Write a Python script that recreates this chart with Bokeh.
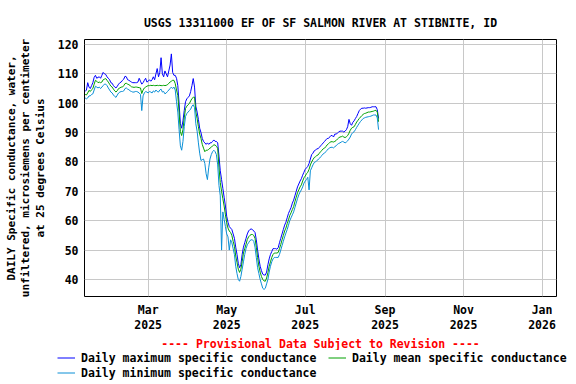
import pandas as pd
from bokeh.plotting import figure
from bokeh.layouts import column
from bokeh.models import (Legend, LegendItem, Title, FixedTicker,
                          DatetimeTickFormatter, Range1d)
from bokeh.embed import file_html
from bokeh.resources import INLINE

# ---------------- data ----------------
start_date = "2025-01-11"

daily_max = [
    104.0, 104.5, 107.0, 105.5, 105.0, 106.0, 107.0, 108.8, 109.5, 108.5,
    108.8, 109.0, 108.5, 109.5, 110.5, 110.0, 109.8, 109.0, 108.5, 108.0,
    107.0, 106.8, 106.0, 105.5, 105.2, 105.8, 106.5, 107.0, 107.2, 107.8,
    108.2, 109.2, 109.0, 108.0, 107.8, 107.5, 107.2, 107.0, 107.0, 107.0,
    107.0, 107.2, 108.5, 107.5, 106.5, 107.0, 107.8, 108.5, 107.2, 107.5,
    108.0, 107.5, 108.0, 109.0, 108.0, 110.0, 111.8, 109.0, 110.5, 115.5,
    110.0, 109.0, 111.0, 110.0, 109.0, 111.0, 113.0, 116.8, 110.5, 109.5,
    109.5, 108.5, 106.0, 100.0, 93.0, 91.5, 94.0, 97.5, 100.5, 101.5,
    102.0, 102.5, 104.0, 106.0, 108.4, 105.5, 99.0, 97.0, 94.5, 91.5,
    90.0, 88.0, 87.0, 86.5, 86.0, 86.5, 86.0, 86.5, 86.5, 87.0,
    87.5, 87.0, 87.0, 86.5, 82.0, 77.0, 74.0, 71.0, 68.0, 65.0,
    61.5, 59.5, 58.0, 57.5, 57.0, 55.5, 54.0, 51.0, 48.5, 45.5,
    44.0, 45.0, 48.5, 51.0, 52.5, 54.0, 55.5, 56.5, 57.0, 57.2,
    57.0, 56.5, 56.0, 53.5, 50.0, 47.0, 44.5, 43.0, 41.8, 41.5,
    41.5, 42.5, 45.0, 47.0, 48.5, 49.5, 50.5, 50.5, 50.5, 50.3,
    50.8, 52.5, 54.0, 55.5, 57.0, 58.5, 59.5, 61.0, 62.5, 63.5,
    64.5, 66.0, 67.0, 68.5, 70.0, 71.5, 72.5, 73.5, 74.3, 75.5,
    76.5, 77.5, 78.0, 78.5, 79.5, 81.0, 82.5, 83.0, 83.8, 84.0,
    84.5, 84.5, 85.0, 85.5, 86.0, 86.5, 87.0, 87.5, 88.0, 88.0,
    88.5, 89.0, 89.0, 88.5, 89.5, 89.5, 89.8, 90.2, 90.5, 90.5,
    90.5, 90.2, 90.5, 91.0, 92.0, 94.5, 93.0, 92.5, 93.5, 94.0,
    94.8, 95.5, 96.5, 97.5, 98.0, 98.3, 98.3, 98.4, 98.3, 98.4,
    98.5, 98.5, 98.6, 98.8, 98.8, 98.8, 98.8, 97.8, 94.8,
]

daily_mean = [
    103.0, 102.8, 103.5, 104.4, 104.0, 104.6, 105.0, 106.5, 107.8, 107.5,
    107.0, 107.2, 107.0, 107.2, 108.0, 108.2, 108.4, 107.8, 107.2, 106.5,
    105.8, 105.5, 104.8, 104.2, 103.8, 104.3, 105.0, 105.2, 105.5, 105.5,
    106.0, 106.7, 106.8, 106.5, 106.3, 106.0, 105.6, 105.5, 105.4, 105.5,
    105.5, 105.4, 105.3, 105.2, 103.3, 104.5, 105.2, 105.5, 105.8, 106.0,
    106.0, 106.1, 106.0, 106.1, 106.0, 106.0, 106.1, 106.0, 106.1, 106.0,
    106.0, 106.1, 106.0, 106.1, 106.3, 106.8, 107.2, 107.5, 107.8, 107.8,
    106.7, 104.5, 102.7, 97.0, 90.3, 89.0, 91.0, 95.0, 98.2, 99.0,
    99.5, 99.9, 100.8, 101.6, 102.0, 102.1, 97.0, 94.8, 92.0, 89.5,
    88.0, 86.0, 84.7, 83.5, 84.0, 84.0, 84.3, 84.7, 85.0, 85.5,
    85.8, 85.8, 85.3, 84.7, 78.0, 73.0, 70.0, 67.5, 65.0, 62.0,
    59.3, 57.5, 56.5, 56.0, 55.0, 53.0, 51.3, 48.0, 45.8, 43.5,
    42.4, 43.5, 46.0, 49.0, 50.5, 52.0, 53.6, 54.5, 55.0, 55.3,
    55.3, 55.0, 54.0, 51.0, 47.5, 44.5, 42.5, 41.0, 40.0, 39.5,
    39.4, 40.5, 42.3, 44.5, 46.0, 47.5, 48.5, 49.0, 49.0, 49.0,
    49.2, 50.5, 51.9, 53.5, 55.0, 56.5, 57.5, 59.0, 60.3, 61.8,
    62.7, 63.8, 64.8, 66.5, 68.0, 69.5, 70.5, 71.5, 72.2, 73.5,
    74.6, 75.2, 76.0, 76.5, 77.5, 79.0, 80.0, 80.8, 81.5, 81.8,
    82.2, 82.4, 83.0, 83.5, 84.0, 84.5, 84.7, 85.2, 85.8, 86.2,
    86.6, 86.9, 86.9, 86.8, 87.0, 87.3, 87.8, 88.2, 88.5, 88.6,
    88.8, 88.5, 88.3, 88.6, 89.0, 89.8, 90.8, 91.5, 91.8, 92.0,
    92.8, 93.6, 94.2, 94.8, 95.3, 95.8, 96.2, 96.5, 96.6, 96.8,
    97.0, 97.0, 97.1, 97.2, 97.3, 97.5, 97.6, 97.0, 93.7,
]

daily_min = [
    101.8, 101.5, 101.8, 102.5, 102.5, 103.0, 103.2, 104.5, 105.8, 105.5,
    105.2, 105.5, 105.0, 105.5, 106.0, 106.5, 106.5, 106.0, 105.2, 104.5,
    103.8, 103.5, 102.8, 102.3, 102.0, 102.8, 103.5, 103.8, 104.0, 104.0,
    104.2, 105.0, 105.2, 104.8, 104.6, 104.2, 104.0, 103.8, 103.8, 104.0,
    104.0, 103.8, 103.5, 103.0, 97.5, 102.5, 103.5, 104.0, 103.8, 103.5,
    104.0, 103.8, 103.5, 104.2, 103.8, 104.5, 104.0, 103.8, 104.5, 104.8,
    103.8, 104.0, 103.2, 103.5, 104.0, 104.5, 105.0, 105.5, 105.0, 105.5,
    104.5, 100.5, 97.0, 91.0, 85.5, 84.0, 87.0, 92.0, 95.5, 96.5,
    97.0, 97.5, 98.0, 99.0, 99.5, 98.5, 93.0, 90.5, 86.5, 83.0,
    80.5, 80.8, 81.0, 79.5, 76.0, 74.0, 78.0, 81.0, 82.5, 83.5,
    84.0, 83.5, 82.5, 79.0, 72.0, 68.5, 50.0, 63.0, 60.5, 58.0,
    55.5, 54.5, 50.0, 53.5, 52.5, 50.5, 48.5, 44.5, 42.0, 40.0,
    39.4, 41.0, 43.5, 46.0, 48.5, 50.5, 51.8, 52.5, 53.2, 53.5,
    53.5, 53.0, 51.0, 47.5, 44.0, 42.0, 40.0, 38.5, 37.0, 36.6,
    37.0, 38.5, 40.0, 42.5, 44.5, 46.0, 47.0, 47.5, 47.5, 47.5,
    47.5, 48.5, 50.0, 51.5, 53.0, 54.5, 55.8, 57.0, 58.5, 60.0,
    61.0, 62.0, 63.0, 64.5, 66.0, 67.5, 68.8, 69.8, 70.5, 71.5,
    72.8, 73.5, 74.0, 74.8, 70.5, 77.0, 78.0, 79.0, 79.8, 80.0,
    80.5, 80.8, 81.2, 81.8, 82.2, 82.8, 83.0, 83.5, 84.0, 84.5,
    84.8, 85.0, 85.0, 84.8, 85.2, 85.5, 86.0, 86.3, 86.5, 86.8,
    87.0, 86.8, 86.5, 86.8, 87.2, 87.8, 88.5, 89.5, 90.0, 90.3,
    91.0, 91.8, 92.5, 93.2, 93.8, 94.3, 94.8, 95.0, 95.2, 95.3,
    95.4, 95.5, 95.6, 95.8, 96.0, 96.0, 96.0, 95.0, 91.0,
]

month_ticks = ["2025-03-01", "2025-05-01", "2025-07-01",
               "2025-09-01", "2025-11-01", "2026-01-01"]
y_ticks = [40, 50, 60, 70, 80, 90, 100, 110, 120]

title_text = "USGS 13311000 EF OF SF SALMON RIVER AT STIBNITE, ID"
y_label = ("DAILY Specific conductance, water,\n"
           "unfiltered, microsiemens per centimeter\n"
           "at 25 degrees Celsius")
provisional_text = "---- Provisional Data Subject to Revision ----"
label_max = "Daily maximum specific conductance"
label_mean = "Daily mean specific conductance"
label_min = "Daily minimum specific conductance"

# ---------------- styling ----------------
FONT = "DejaVu Sans Mono"
FS = "11.5px"
C_MAX = "#0000ff"
C_MEAN = "#00a000"
C_MIN = "#0a8fd6"

dates = pd.date_range(start_date, periods=len(daily_mean), freq="D")

p = figure(width=576, height=350, x_axis_type="datetime",
           output_backend="svg", toolbar_location=None,
           x_range=Range1d(pd.Timestamp("2025-01-10 12:00"),
                           pd.Timestamp("2026-01-12 06:00")),
           y_range=Range1d(34.2, 121.7),
           min_border_left=84, min_border_right=20,
           min_border_top=39, min_border_bottom=53)
p.frame_align = False

p.background_fill_color = "white"
p.border_fill_color = "white"
p.outline_line_color = "black"
p.outline_line_width = 1

# title
p.title.text = title_text
p.title.align = "center"
p.title.text_font = FONT
p.title.text_font_style = "bold"
p.title.text_font_size = FS
p.title.text_color = "black"
p.title.standoff = 20

# lines
r_max = p.line(dates, daily_max, line_color=C_MAX, line_width=1)
r_mean = p.line(dates, daily_mean, line_color=C_MEAN, line_width=1)
r_min = p.line(dates, daily_min, line_color=C_MIN, line_width=1)

# axes
tick_ms = [pd.Timestamp(t).value / 1e6 for t in month_ticks]
p.xaxis.ticker = FixedTicker(ticks=tick_ms)
fmt = "%b\n%Y"
p.xaxis.formatter = DatetimeTickFormatter(
    milliseconds=fmt, seconds=fmt, minsec=fmt, minutes=fmt, hourmin=fmt,
    hours=fmt, days=fmt, months=fmt, years=fmt)
p.yaxis.ticker = FixedTicker(ticks=y_ticks)

for ax in (p.xaxis[0], p.yaxis[0]):
    ax.axis_line_color = None
    ax.major_tick_line_color = None
    ax.minor_tick_line_color = None
    ax.major_tick_out = 0
    ax.major_tick_in = 0
    ax.minor_tick_out = 0
    ax.major_label_text_font = FONT
    ax.major_label_text_font_style = "bold"
    ax.major_label_text_font_size = FS
    ax.major_label_text_color = "black"
    ax.major_label_standoff = 6
p.xaxis.major_label_text_line_height = 1.1

p.yaxis.axis_label = y_label
p.yaxis.axis_label_text_font = FONT
p.yaxis.axis_label_text_font_style = "bold"
p.yaxis.axis_label_text_font_size = "11px"
p.yaxis.axis_label_text_color = "black"
p.yaxis.axis_label_text_align = "center"
p.yaxis.axis_label_text_line_height = 1.1
p.yaxis.axis_label_standoff = 8

# grid
p.xgrid.grid_line_color = "#c8c8c8"
p.ygrid.grid_line_color = "#c8c8c8"
p.xgrid.grid_line_width = 1
p.ygrid.grid_line_width = 1

# provisional note
prov = Title(text=provisional_text, align="center", text_color="red",
             text_font=FONT, text_font_style="bold", text_font_size=FS,
             standoff=0)
p.add_layout(prov, "below")

# legend strip (separate small figure below the chart)
leg_fig = figure(width=576, height=34, output_backend="svg",
                 toolbar_location=None, min_border=0,
                 min_border_left=0, min_border_right=0,
                 min_border_top=0, min_border_bottom=0,
                 x_range=Range1d(0, 1), y_range=Range1d(0, 1))
leg_fig.frame_align = False
leg_fig.axis.visible = False
leg_fig.grid.visible = False
leg_fig.outline_line_color = None
leg_fig.background_fill_color = "white"
leg_fig.border_fill_color = "white"
nan = float("nan")
lr_max = leg_fig.line(x=[nan], y=[nan], line_color=C_MAX, line_width=1)
lr_mean = leg_fig.line(x=[nan], y=[nan], line_color=C_MEAN, line_width=1)
lr_min = leg_fig.line(x=[nan], y=[nan], line_color=C_MIN, line_width=1)

legend = Legend(items=[LegendItem(label=label_max, renderers=[lr_max]),
                       LegendItem(label=label_mean, renderers=[lr_mean]),
                       LegendItem(label=label_min, renderers=[lr_min])],
                location=(57, 4), orientation="horizontal", ncols=2,
                label_text_font=FONT, label_text_font_style="bold",
                label_text_font_size=FS, label_text_color="black",
                glyph_width=18, glyph_height=15, label_height=15,
                label_width=247, label_standoff=6, spacing=0,
                padding=0, margin=0, border_line_alpha=0,
                background_fill_alpha=0)
leg_fig.add_layout(legend, "center")

layout = column(p, leg_fig, spacing=0)
open("out.html", "w").write(file_html(layout, INLINE))
